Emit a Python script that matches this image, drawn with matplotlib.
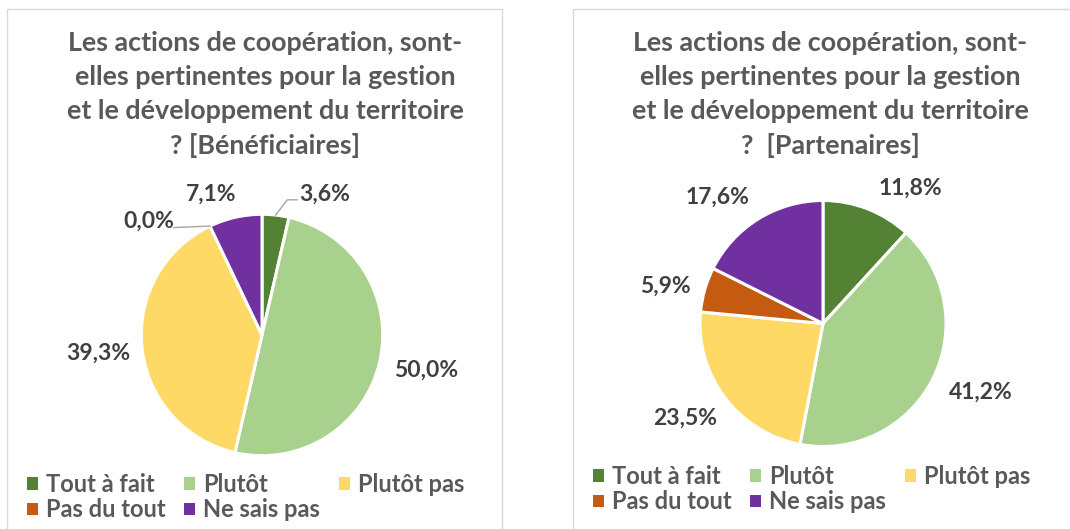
"""Two pie charts: relevance of cooperation actions (beneficiaries vs partners)."""

import matplotlib

matplotlib.use("Agg")
import matplotlib.pyplot as plt  # noqa: E402
import numpy as np  # noqa: E402
from matplotlib.lines import Line2D  # noqa: E402
from matplotlib.patches import Patch, Rectangle  # noqa: E402

plt.rcParams["font.family"] = ["Lato", "DejaVu Sans"]

# --- data -------------------------------------------------------------------
categories = ["Tout à fait", "Plutôt", "Plutôt pas", "Pas du tout", "Ne sais pas"]
beneficiaires = [3.6, 50.0, 39.3, 0.0, 7.1]
partenaires = [11.8, 41.2, 23.5, 5.9, 17.6]
title_benef = ("Les actions de coopération, sont-\nelles pertinentes pour la gestion\n"
               "et le développement du territoire\n? [Bénéficiaires]")
title_part = ("Les actions de coopération, sont-\nelles pertinentes pour la gestion\n"
              "et le développement du territoire\n?  [Partenaires]")

colors = ["#548235", "#A9D18E", "#FFD966", "#C55A11", "#7030A0"]
TITLE_C = "#595959"
LABEL_C = "#404040"
BORDER_C = "#D9D9D9"

W, H = 1070, 529
fig = plt.figure(figsize=(W / 100, H / 100), dpi=100)

# panel frames (pixel boxes)
for x0, y0, x1, y1 in [(7, 9, 502, 540), (573, 9, 1080, 540)]:
    fig.patches.append(Rectangle((x0 / W, 1 - y1 / H), (x1 - x0) / W, (y1 - y0) / H,
                                 transform=fig.transFigure, fill=False,
                                 edgecolor=BORDER_C, linewidth=1.0))


def pie_axes(cx, cy, r):
    xl, yl = (-1.8, 1.8), (-1.3, 1.5)
    left = (cx + xl[0] * r) / W
    bottom = 1 - (cy - yl[0] * r) / H
    ax = fig.add_axes([left, bottom, (xl[1] - xl[0]) * r / W, (yl[1] - yl[0]) * r / H])
    ax.set_aspect("equal")
    ax.axis("off")
    return ax


def draw(cx, cy, r, values, label_xy, leaders, title, title_x, legend_x, legend_y):
    ax = pie_axes(cx, cy, r)
    ax.pie(values, colors=colors, startangle=90, counterclock=False, radius=1,
           wedgeprops=dict(edgecolor="white", linewidth=2.2))
    ax.set_xlim(-1.8, 1.8)
    ax.set_ylim(-1.3, 1.5)
    cum = np.cumsum([0] + list(values))
    total = cum[-1]
    for i, v in enumerate(values):
        mid = np.deg2rad(90 - 360 * (cum[i] + v / 2) / total)
        lx, ly = label_xy[i]
        ax.text(lx, ly, f"{v:.1f}%".replace(".", ","), ha="center", va="center",
                fontsize=16.5, fontweight="bold", color=LABEL_C, clip_on=False)
        if leaders[i] is not None:
            pts = [(np.cos(mid), np.sin(mid))] + leaders[i]
            xs, ys = zip(*pts)
            ax.add_line(Line2D(xs, ys, color="#A6A6A6", lw=1.0, clip_on=False))
    fig.text(title_x / W, 1 - 31 / H, title, ha="center", va="top", fontsize=19.4,
             fontweight="bold", color=TITLE_C, linespacing=1.5)
    handles = [Patch(facecolor=c, edgecolor="none") for c in colors]
    order = [0, 3, 1, 4, 2]
    fig.legend([handles[k] for k in order], [categories[k] for k in order],
               ncol=3, loc="upper left", bbox_to_anchor=(legend_x / W, 1 - legend_y / H),
               frameon=False, prop=dict(weight="bold", size=17),
               labelcolor=TITLE_C, handlelength=0.45, handleheight=0.45,
               handletextpad=0.35, columnspacing=0.8, labelspacing=0.1,
               borderaxespad=0, borderpad=0)


# Bénéficiaires
draw(262, 335, 120.7, beneficiaires,
     label_xy=[(0.52, 1.17), (1.36, -0.29), (-1.36, -0.15), (-0.94, 0.94), (-0.42, 1.17)],
     leaders=[[(0.21, 1.12), (0.29, 1.12)], None, None, [(-0.73, 0.89)], None],
     title=title_benef, title_x=265, legend_x=27, legend_y=473)

# Partenaires
draw(823, 323.5, 123, partenaires,
     label_xy=[(0.71, 1.10), (1.28, -0.56), (-1.12, -0.77), (-1.28, 0.30), (-0.86, 1.03)],
     leaders=[None] * 5,
     title=title_part, title_x=830, legend_x=593, legend_y=465)

fig.savefig("out.png", dpi=100)
